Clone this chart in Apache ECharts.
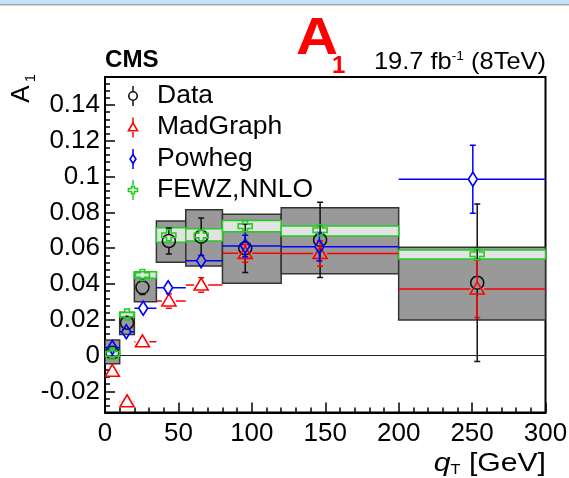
<!DOCTYPE html>
<html><head><meta charset="utf-8">
<script src="https://cdn.jsdelivr.net/npm/echarts@6/dist/echarts.min.js"></script>
<style>html,body{margin:0;padding:0;background:#fff}#c{width:569px;height:478px}</style>
</head><body><div id="c"></div>
<script>
// ---- data ----
const binLo = [0, 10, 20, 35, 55, 80, 120, 200];
const binHi = [10, 20, 35, 55, 80, 120, 200, 300];
const xMean = [5, 15, 25.5, 43.5, 65.5, 95.5, 146.5, 253.5];
const xPowheg = [5, 14.5, 26, 43, 65.5, 95.5, 146, 250.5];

const dataVal  = [0.0016, 0.0183, 0.0381, 0.0640, 0.0664, 0.0599, 0.0646, 0.0407];
const dataStat = [0.0030, 0.0030, 0.0040, 0.0073, 0.0105, 0.0135, 0.0210, 0.0440];
const dataSysLo = [-0.0046, 0.0118, 0.0301, 0.0521, 0.0500, 0.0404, 0.0457, 0.0198];
const dataSysHi = [0.0087, 0.0241, 0.0465, 0.0752, 0.0815, 0.0790, 0.0826, 0.0605];

const mgVal = [-0.0088, -0.0258, 0.0077, 0.0305, 0.0394, 0.0571, 0.0570, 0.0372];
const mgErr = [0.0020, 0.0020, 0.0025, 0.0040, 0.0040, 0.0050, 0.0070, 0.0160];

const phVal = [0.0045, 0.0133, 0.0264, 0.0379, 0.0530, 0.0612, 0.0608, 0.0985];
const phErr = [0.0020, 0.0020, 0.0020, 0.0030, 0.0030, 0.0060, 0.0080, 0.0190];

const fzVal = [0.0010, 0.0229, 0.0450, 0.0672, 0.0670, 0.0723, 0.0700, 0.0566];
const fzLo  = [-0.0005, 0.0217, 0.0432, 0.0633, 0.0640, 0.0692, 0.0668, 0.0540];
const fzHi  = [0.0025, 0.0241, 0.0468, 0.0714, 0.0708, 0.0754, 0.0724, 0.0590];

const xTicks = [0, 50, 100, 150, 200, 250, 300];
const yTicks = [-0.02, 0, 0.02, 0.04, 0.06, 0.08, 0.1, 0.12, 0.14];
const legendNames = ['Data', 'MadGraph', 'Powheg', 'FEWZ,NNLO'];

// ---- styling ----
const FONT = '"Liberation Sans", Arial, Helvetica, sans-serif';
const RED = '#ff0000', BLUE = '#0000ff', GREEN = '#22cc22', BLACK = '#111111';
const Y_MIN = -0.0318, Y_MAX = 0.1556;
const yMinor = [];
for (let k = -7; k <= 38; k++) { const v = +(k * 0.004).toFixed(4); if (v >= Y_MIN && v <= Y_MAX) yMinor.push(v); }

const MARK = {
  circle:   { w: 6.5, h: 6.5 },
  triangle: { w: 7, h: 7 },
  diamond:  { w: 4.5, h: 7 },
  cross:    { w: 7, h: 5.5 }
};
function markerEl(type, cx, cy, color, s) {
  s = s || 1;
  const st = { fill: 'none', stroke: color, lineWidth: 1.6 };
  if (type === 'circle') return { type: 'circle', shape: { cx, cy, r: 6.5 * s }, style: st, z2: 10 };
  let pts;
  if (type === 'triangle') pts = [[0, -7], [7, 5], [-7, 5]];
  else if (type === 'diamond') pts = [[0, -7], [4.5, 0], [0, 7], [-4.5, 0]];
  else { const w = 7, h = 5.5, t = 2.3;
    pts = [[-t, -h], [t, -h], [t, -t], [w, -t], [w, t], [t, t], [t, h], [-t, h], [-t, t], [-w, t], [-w, -t], [-t, -t]]; }
  return { type: 'polygon', shape: { points: pts.map(p => [cx + p[0] * s, cy + p[1] * s]) }, style: st, z2: 10 };
}
function seg(x1, y1, x2, y2, color, w) {
  return { type: 'line', shape: { x1, y1, x2, y2 }, style: { stroke: color, lineWidth: w || 1.5 } };
}

function pointSeries(name, xs, vals, errs, color, marker, hbar, z) {
  return {
    type: 'custom', name, z, clip: true,
    data: vals.map((v, i) => [xs[i], v, errs[i], binLo[i], binHi[i]]),
    encode: { x: 0, y: 1 },
    renderItem(params, api) {
      const x = api.value(0), y = api.value(1), e = api.value(2);
      const p = api.coord([x, y]);
      const pt = api.coord([x, y + e]), pb = api.coord([x, y - e]);
      const m = MARK[marker];
      const ch = [];
      const cap = 3;
      if (p[1] - pt[1] > m.h) { ch.push(seg(p[0], p[1] - m.h, p[0], pt[1], color)); ch.push(seg(p[0] - cap, pt[1], p[0] + cap, pt[1], color)); }
      if (pb[1] - p[1] > m.h) { ch.push(seg(p[0], p[1] + m.h, p[0], pb[1], color)); ch.push(seg(p[0] - cap, pb[1], p[0] + cap, pb[1], color)); }
      if (hbar) {
        const pl = api.coord([api.value(3), y]), pr = api.coord([api.value(4), y]);
        if (p[0] - pl[0] > m.w) ch.push(seg(pl[0], p[1], p[0] - m.w, p[1], color));
        if (pr[0] - p[0] > m.w) ch.push(seg(p[0] + m.w, p[1], pr[0], p[1], color));
      }
      ch.push(markerEl(marker, p[0], p[1], color));
      return { type: 'group', children: ch };
    }
  };
}
function boxSeries(name, lo, hi, fill, stroke, z, extra) {
  const s = {
    type: 'custom', name, z, clip: true,
    data: lo.map((v, i) => [binLo[i], v, binHi[i], hi[i]]),
    encode: { x: [0, 2], y: [1, 3] },
    renderItem(params, api) {
      const a = api.coord([api.value(0), api.value(3)]);
      const b = api.coord([api.value(2), api.value(1)]);
      return { type: 'rect', shape: { x: a[0], y: a[1], width: b[0] - a[0], height: b[1] - a[1] },
        style: { fill, stroke, lineWidth: 1.5 } };
    }
  };
  return Object.assign(s, extra || {});
}

const chart = echarts.init(document.getElementById('c'), null, { renderer: 'canvas' });

// legend graphics
const legY = [96, 127.5, 159, 190];
const legMark = ['circle', 'triangle', 'diamond', 'cross'];
const legCol = [BLACK, RED, BLUE, GREEN];
const legend = [];
legendNames.forEach((n, i) => {
  const cx = 133, cy = legY[i];
  legend.push(seg(cx, cy - 10, cx, cy - 4.5, legCol[i], 1.5));
  legend.push(seg(cx, cy + 4.5, cx, cy + 10, legCol[i], 1.5));
  legend.push(markerEl(legMark[i], cx, cy, legCol[i], 0.65));
  legend.push({ type: 'text', x: 157, y: cy, scaleX: 1.06, style: { text: n, font: '25px ' + FONT, fill: '#000', textVerticalAlign: 'middle' } });
});

const option = {
  animation: false,
  backgroundColor: '#ffffff',
  grid: { left: 105, right: 23.5, top: 77, bottom: 65.5, show: true, borderColor: '#000', borderWidth: 2, backgroundColor: 'transparent', containLabel: false, outerBoundsMode: 'none' },
  xAxis: {
    type: 'value', min: xTicks[0], max: xTicks[xTicks.length - 1], interval: xTicks[1] - xTicks[0],
    axisLine: { show: true, onZero: false, lineStyle: { color: '#000', width: 2 } },
    axisTick: { show: true, inside: true, length: 10, lineStyle: { color: '#000', width: 1.5 } },
    minorTick: { show: true, splitNumber: 5, length: 5, lineStyle: { color: '#000', width: 1.5 } },
    axisLabel: { color: '#000', fontSize: 26, fontFamily: FONT, margin: 8, showMinLabel: true, showMaxLabel: true },
    splitLine: { show: false }
  },
  yAxis: [{
    type: 'value', min: Y_MIN, max: Y_MAX,
    axisLine: { show: true, onZero: false, lineStyle: { color: '#000', width: 2 } },
    axisTick: { show: true, inside: true, length: 10, customValues: yTicks, lineStyle: { color: '#000', width: 1.5 } },
    axisLabel: { customValues: yTicks, color: '#000', fontSize: 26, fontFamily: FONT, margin: 5,
      formatter: v => String(parseFloat(Number(v).toFixed(3))) },
    splitLine: { show: false }
  }, {
    type: 'value', min: Y_MIN, max: Y_MAX, position: 'left', offset: 0,
    axisLine: { show: false },
    axisTick: { show: true, inside: true, length: 5, customValues: yMinor, lineStyle: { color: '#000', width: 1.5 } },
    axisLabel: { show: false }, splitLine: { show: false }
  }],
  series: [
    boxSeries('Data sys', dataSysLo, dataSysHi, '#999999', '#333333', 1, {
      markLine: { silent: true, symbol: 'none', label: { show: false }, animation: false,
        lineStyle: { color: '#222', width: 1, type: 'solid' }, data: [{ yAxis: 0 }] }
    }),
    boxSeries('FEWZ band', fzLo, fzHi, '#e3e3e3', GREEN, 2),
    pointSeries('Data', xMean, dataVal, dataStat, BLACK, 'circle', false, 3),
    pointSeries('MadGraph', xMean, mgVal, mgErr, RED, 'triangle', true, 4),
    pointSeries('Powheg', xPowheg, phVal, phErr, BLUE, 'diamond', true, 5),
    pointSeries('FEWZ,NNLO', xMean, fzVal, fzVal.map(() => 0), GREEN, 'cross', false, 6)
  ],
  graphic: [
    { type: 'rect', shape: { x: 0, y: 0, width: 569, height: 4 }, style: { fill: '#c4e2fa' }, z: 100 },
    { type: 'rect', shape: { x: 0, y: 4, width: 569, height: 1.5 }, style: { fill: '#a6a6a6' }, z: 100 },
    { type: 'text', x: 105, y: 61, scaleX: 1.05, style: { text: 'CMS', font: 'bold 23px ' + FONT, fill: '#000', textVerticalAlign: 'middle' }, z: 100 },
    { type: 'text', x: 296, y: 40, scaleX: 1.12, style: { text: 'A', font: 'bold 52px ' + FONT, fill: '#ff0000', textVerticalAlign: 'middle' }, z: 100 },
    { type: 'text', x: 332, y: 66, style: { text: '1', font: 'bold 24px ' + FONT, fill: '#ff0000', textVerticalAlign: 'middle' }, z: 100 },
    { type: 'text', x: 546, y: 62, scaleX: 1.06, style: { text: '{n|19.7 fb}{s|-1}{n| (8TeV)}', textAlign: 'right', textVerticalAlign: 'middle',
        rich: { n: { fontSize: 24, fontFamily: FONT, color: '#000' }, s: { fontSize: 13, fontFamily: FONT, color: '#000', verticalAlign: 'top' } } }, z: 100 },
    { type: 'text', x: 22, y: 94, rotation: Math.PI / 2, style: { text: 'A', font: '26px ' + FONT, fill: '#000', textAlign: 'center', textVerticalAlign: 'middle' }, z: 100 },
    { type: 'text', x: 31, y: 78, rotation: Math.PI / 2, style: { text: '1', font: '14px ' + FONT, fill: '#000', textAlign: 'center', textVerticalAlign: 'middle' }, z: 100 },
    { type: 'text', x: 546, y: 464, scaleX: 1.16, style: { text: '{q|q}{t|T}{g| [GeV]}', textAlign: 'right', textVerticalAlign: 'middle',
        rich: { q: { fontSize: 26, fontStyle: 'italic', fontFamily: FONT, color: '#000' }, t: { fontSize: 14, fontFamily: FONT, color: '#000', verticalAlign: 'bottom' }, g: { fontSize: 26, fontFamily: FONT, color: '#000' } } }, z: 100 },
    { type: 'group', children: legend, z: 100 }
  ]
};
chart.setOption(option);
</script></body></html>
